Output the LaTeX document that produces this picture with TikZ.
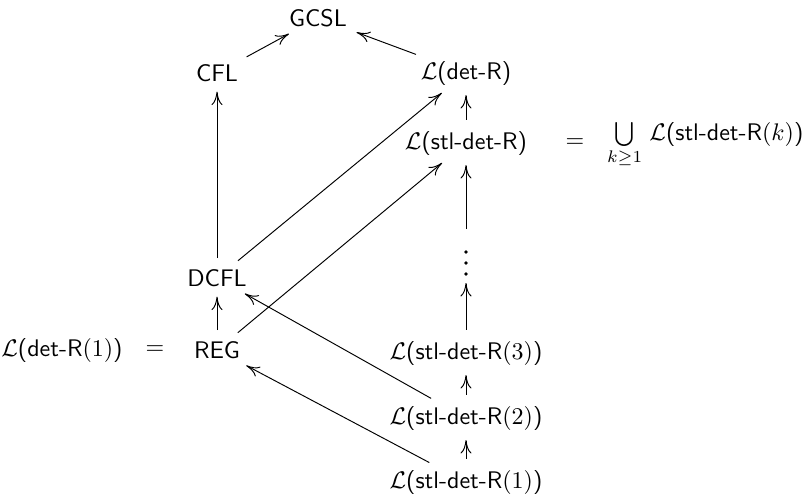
\documentclass[tikz,border=0pt]{standalone}
\usetikzlibrary{arrows.meta}
\begin{document}
\begin{tikzpicture}[x=0.4167pt,y=-0.4167pt,
  lang/.style={inner sep=1.5pt, font=\sffamily},
  inc/.style={-{Computer Modern Rightarrow[length=5.6pt,width=4.6pt,line width=0.4pt]}, line width=0.4pt, shorten <=3pt, shorten >=2.5pt}]
\useasboundingbox (0,0) rectangle (808,503);
% class nodes
\node[lang] (gcsl) at (318,18) {GCSL};
\node[lang] (cfl) at (217,73) {CFL};
\node[lang] (detr) at (466,73) {$\mathcal{L}$(det-R)};
\node[lang] (stl) at (466,143) {$\mathcal{L}$(stl-det-R)};
\node[lang] (dcfl) at (217,278) {DCFL};
\node[lang] (reg) at (217,350) {REG};
\node[lang] (s3) at (466,353) {$\mathcal{L}$(stl-det-R$(3)$)};
\node[lang] (s2) at (466,418) {$\mathcal{L}$(stl-det-R$(2)$)};
\node[lang] (s1) at (466,482) {$\mathcal{L}$(stl-det-R$(1)$)};
% vertical ellipsis between the finite levels and the union
\node[inner sep=0, minimum width=6pt, minimum height=0pt] (dots) at (466,263) {};
\foreach \yy in {252,263,274} \fill (466,\yy) circle (0.75pt);
\coordinate (dtop) at (466,229);
\coordinate (dbot) at (466,283);
% equalities
\node[lang] (eqa) at (575,143) {$=$};
\node[lang, anchor=west] (union) at (603,145) {$\bigcup\limits_{k\geq 1}$\hspace{3pt}$\mathcal{L}$(stl-det-R$(k)$)};
\node[lang] (eqb) at (155,350) {$=$};
\node[lang] (detr1) at (62,350) {$\mathcal{L}$(det-R$(1)$)};
% inclusions
\draw[inc] (cfl) -- (gcsl);
\draw[inc] (detr) -- (gcsl);
\draw[inc] (dcfl) -- (cfl);
\draw[inc] (dcfl) -- (detr);
\draw[inc] (reg) -- (dcfl);
\draw[inc] (reg) -- (stl);
\draw[inc] (stl) -- (detr);
\draw[inc, shorten <=0pt] (dtop) -- (stl);
\draw[inc, shorten >=0pt] (s3) -- (dbot);
\draw[inc] (s2) -- (s3);
\draw[inc] (s1) -- (s2);
\draw[inc] (s2) -- (dcfl);
\draw[inc] (s1) -- (reg);
\end{tikzpicture}
\end{document}
